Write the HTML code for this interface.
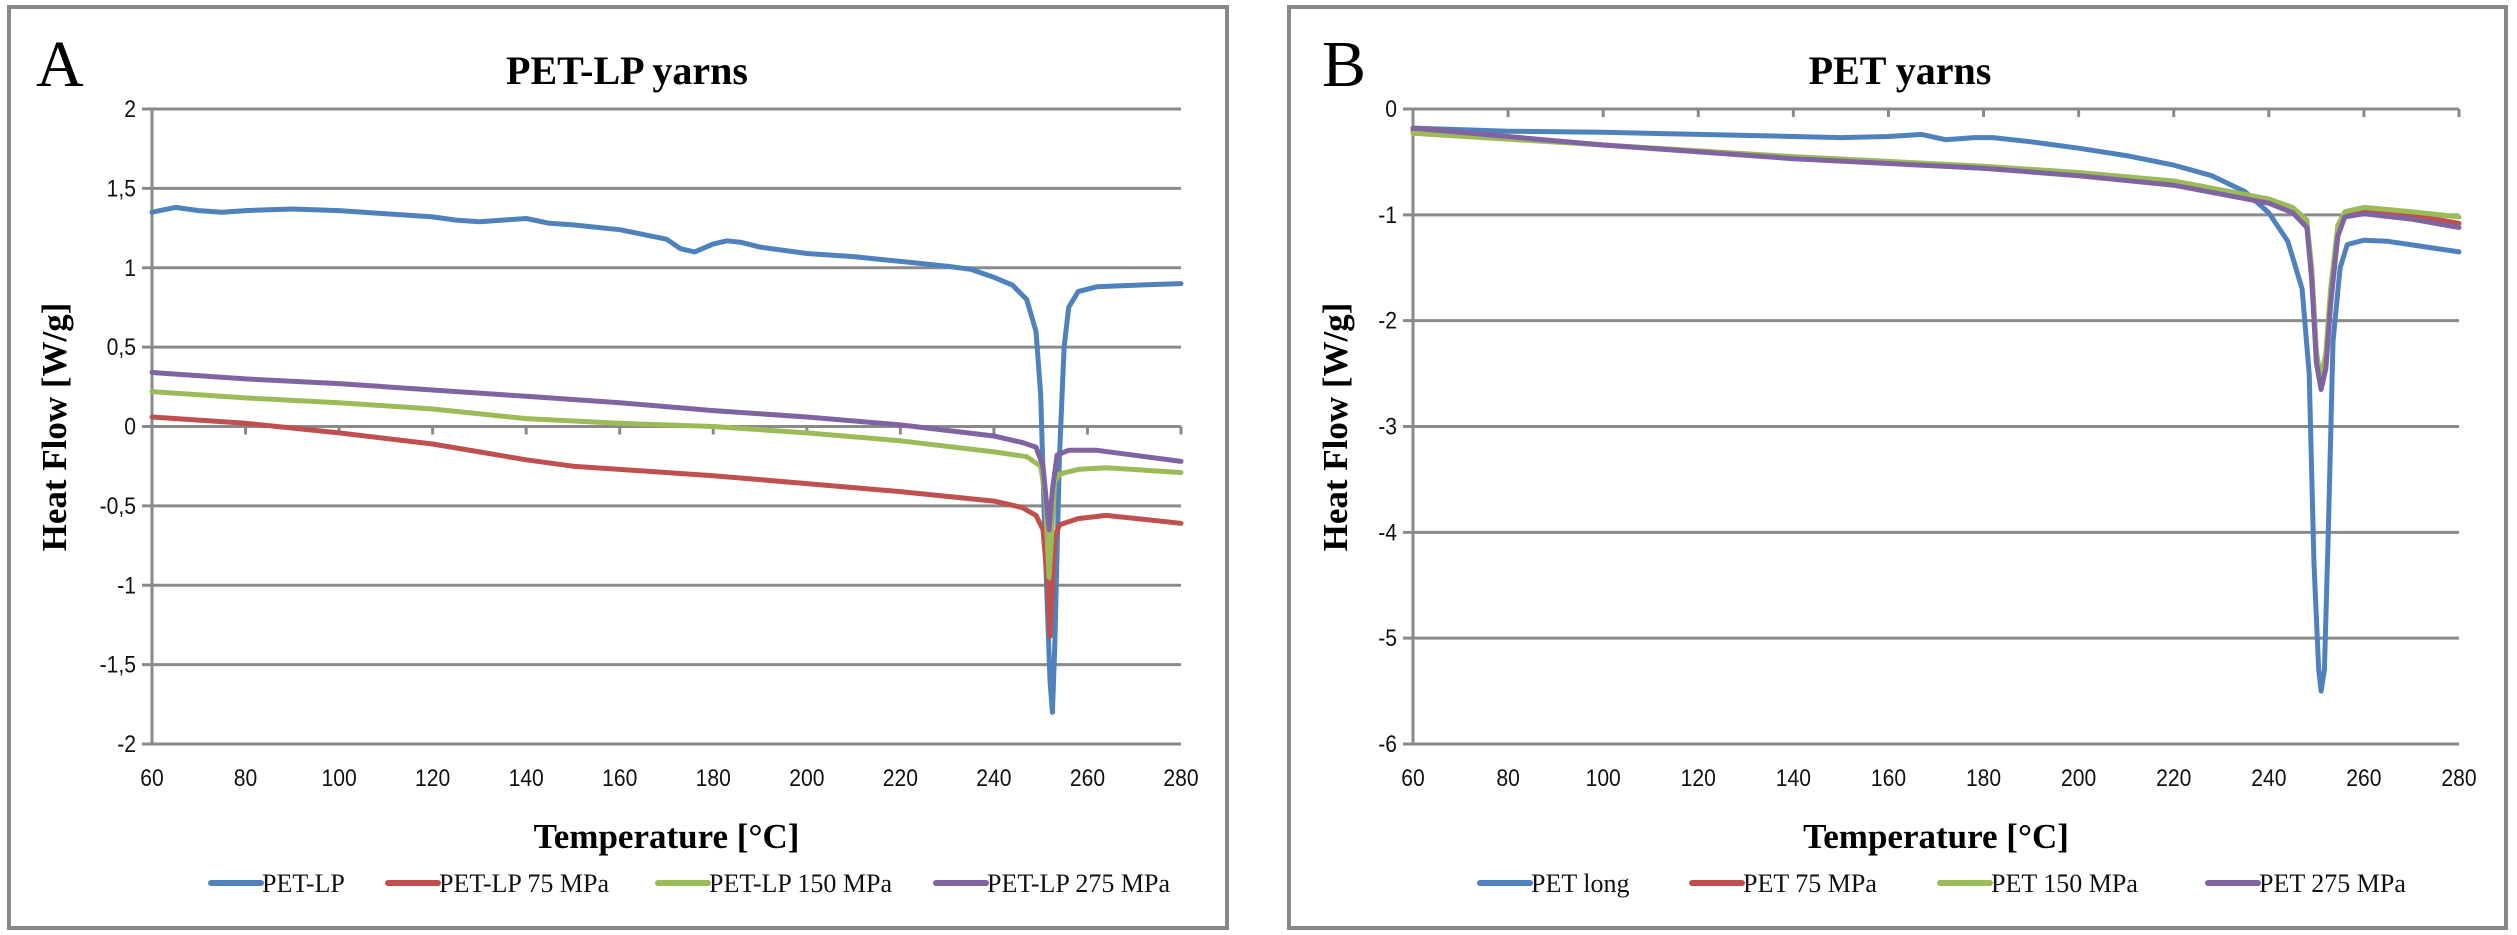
<!DOCTYPE html>
<html><head><meta charset="utf-8"><style>
html,body{margin:0;padding:0;background:#fff;}
svg{display:block;}
.tick{font-family:"Liberation Sans",sans-serif;font-size:24px;fill:#111;}
.ttl{font-family:"Liberation Serif",serif;font-weight:bold;fill:#000;}
.leg{font-family:"Liberation Serif",serif;font-size:26px;fill:#111;}
</style></head><body>
<svg id="chart" width="2517" height="935" viewBox="0 0 2517 935" xmlns="http://www.w3.org/2000/svg">
<rect x="9" y="7" width="1218" height="921" fill="#fff" stroke="#888" stroke-width="4"/>
<rect x="1289" y="7" width="1217" height="921" fill="#fff" stroke="#888" stroke-width="4"/>
<text x="36" y="86" font-family="Liberation Serif, serif" font-size="66">A</text>
<text x="1322" y="86" font-family="Liberation Serif, serif" font-size="66">B</text>
<text class="ttl" x="627" y="84" font-size="40" text-anchor="middle">PET-LP yarns</text>
<text class="ttl" x="1900" y="84" font-size="40" text-anchor="middle">PET yarns</text>
<g id="ga"></g><g id="gb"></g>
</svg>
<script>
const xTicks=[60,80,100,120,140,160,180,200,220,240,260,280];
const aYTicks=[2,1.5,1,0.5,0,-0.5,-1,-1.5,-2];
const bYTicks=[0,-1,-2,-3,-4,-5,-6];
const aNames=["PET-LP","PET-LP 75 MPa","PET-LP 150 MPa","PET-LP 275 MPa"];
const bNames=["PET long","PET 75 MPa","PET 150 MPa","PET 275 MPa"];
const colors=["#4F81BD","#C0504D","#9BBB59","#8064A2"];
const aX0=[60,65,70,75,80,90,100,110,120,125,130,135,140,145,150,160,165,170,173,176,180,183,186,190,200,210,220,230,235,240,244,247,249,250,251,252,252.5,253,254,255,256,258,262,270,280];
const aY0=[1.35,1.38,1.36,1.35,1.36,1.37,1.36,1.34,1.32,1.30,1.29,1.30,1.31,1.28,1.27,1.24,1.21,1.18,1.12,1.10,1.15,1.17,1.16,1.13,1.09,1.07,1.04,1.01,0.99,0.94,0.89,0.80,0.60,0.2,-0.8,-1.6,-1.8,-1.4,-0.2,0.5,0.75,0.85,0.88,0.89,0.9];
const aX1=[60,80,100,120,130,140,150,160,180,200,220,240,246,249,250.5,251.5,252,252.5,253,254,258,264,280];
const aY1=[0.06,0.02,-0.04,-0.11,-0.16,-0.21,-0.25,-0.27,-0.31,-0.36,-0.41,-0.47,-0.51,-0.56,-0.65,-1.0,-1.32,-1.0,-0.7,-0.62,-0.58,-0.56,-0.61];
const aX2=[60,80,100,120,140,160,180,200,220,240,247,250,251,251.8,252.5,253,254,258,264,280];
const aY2=[0.22,0.18,0.15,0.11,0.05,0.02,0.00,-0.04,-0.09,-0.16,-0.19,-0.25,-0.45,-0.95,-0.6,-0.35,-0.3,-0.27,-0.26,-0.29];
const aX3=[60,80,100,120,140,160,180,200,220,240,246,249,250.5,251.8,252.5,253.5,256,262,280];
const aY3=[0.34,0.30,0.27,0.23,0.19,0.15,0.10,0.06,0.01,-0.06,-0.1,-0.13,-0.25,-0.65,-0.4,-0.18,-0.15,-0.15,-0.22];
const bX0=[60,80,100,120,140,150,160,167,172,178,182,190,200,210,220,228,235,240,244,247,248.5,249.5,250.5,251,251.7,252.5,253.5,255,256.5,260,265,280];
const bY0=[-0.18,-0.21,-0.22,-0.24,-0.26,-0.27,-0.26,-0.24,-0.29,-0.27,-0.27,-0.31,-0.37,-0.44,-0.53,-0.63,-0.78,-0.98,-1.25,-1.7,-2.5,-4.3,-5.3,-5.5,-5.3,-4.0,-2.2,-1.5,-1.28,-1.24,-1.25,-1.35];
const bX1=[60,80,100,120,140,160,180,200,220,230,240,245,248,249,250,251,252,253,254.5,256,260,270,280];
const bY1=[-0.2,-0.27,-0.34,-0.4,-0.46,-0.51,-0.56,-0.62,-0.71,-0.78,-0.88,-0.97,-1.1,-1.5,-2.3,-2.6,-2.4,-1.8,-1.2,-1.0,-0.96,-1.0,-1.08];
const bX2=[60,100,140,180,200,220,240,245,248,249,250,251,252,253,254.5,256,260,270,280];
const bY2=[-0.23,-0.34,-0.45,-0.54,-0.6,-0.68,-0.85,-0.93,-1.05,-1.5,-2.3,-2.55,-2.3,-1.7,-1.1,-0.97,-0.93,-0.97,-1.02];
const bX3=[60,100,140,180,200,220,240,245,248,249,250,251,252,253,254.5,256,260,270,280];
const bY3=[-0.18,-0.34,-0.47,-0.56,-0.63,-0.72,-0.89,-0.98,-1.12,-1.6,-2.4,-2.65,-2.45,-1.85,-1.2,-1.02,-0.99,-1.04,-1.12];

const NS="http://www.w3.org/2000/svg";
function mk(parent,tag,attrs,text){const e=document.createElementNS(NS,tag);for(const k in attrs)e.setAttribute(k,attrs[k]);if(text!==undefined)e.textContent=text;parent.appendChild(e);return e;}

function panel(g,cfg){
  const xs=v=>cfg.L+(v-60)/(280-60)*(cfg.R-cfg.L);
  const ymax=cfg.yt[0],ymin=cfg.yt[cfg.yt.length-1];
  const ys=v=>cfg.T+(ymax-v)/(ymax-ymin)*(cfg.B-cfg.T);
  cfg.yt.forEach(t=>{
    const l=mk(g,'line',{x1:cfg.L-10,x2:cfg.R,y1:ys(t),y2:ys(t),stroke:'#8a8a8a','stroke-width':3});
    
    
    const tx=mk(g,'text',{x:0,y:0,'text-anchor':'end',class:'tick',transform:`translate(${cfg.L-16},${ys(t)+8}) scale(0.88,1)`},String(t).replace('.',','));
    
    
  });
  const ax=mk(g,'line',{x1:cfg.L,x2:cfg.L,y1:cfg.T,y2:cfg.B,stroke:'#8a8a8a','stroke-width':3});
  
  
  const y0=ys(0);
  xTicks.forEach(t=>{
    const tk=mk(g,'line',{x1:xs(t),x2:xs(t),y1:y0,y2:y0+8,stroke:'#8a8a8a','stroke-width':3});
    
    
    const tx=mk(g,'text',{x:0,y:0,'text-anchor':'middle',class:'tick',transform:`translate(${xs(t)},${cfg.B+42}) scale(0.88,1)`},String(t));
    
    
  });
  cfg.series.forEach((s,i)=>{
    const d=s[0].map((x,j)=>(j?'L':'M')+xs(x).toFixed(1)+','+ys(s[1][j]).toFixed(1)).join(' ');
    const p=mk(g,'path',{d:d,fill:'none',stroke:colors[i],'stroke-width':5,'stroke-linejoin':'round','stroke-linecap':'round'});
    
    
  });
  const yt=mk(g,'text',{x:0,y:0,class:'ttl','font-size':35,'text-anchor':'middle',transform:`translate(${cfg.ytx},427) rotate(-90)`},'Heat Flow [W/g]');
  
  
  const xt=mk(g,'text',{x:(cfg.L+cfg.R)/2,y:848,class:'ttl','font-size':35,'text-anchor':'middle'},'Temperature [°C]');
  
  
  cfg.names.forEach((n,i)=>{
    const lx=cfg.leg[i];
    const ll=mk(g,'line',{x1:lx,x2:lx+50,y1:883,y2:883,stroke:colors[i],'stroke-width':6,'stroke-linecap':'round'});
    
    
    const lt=mk(g,'text',{x:lx+51,y:892,class:'leg'},n);
    
    
  });
}
panel(document.getElementById('ga'),{L:152,R:1181,T:109,B:744,yt:aYTicks,names:aNames,ytx:66,leg:[211,388,658,936],
  series:[[aX0,aY0],[aX1,aY1],[aX2,aY2],[aX3,aY3]]});
panel(document.getElementById('gb'),{L:1413,R:2459,T:109,B:744,yt:bYTicks,names:bNames,ytx:1347,leg:[1480,1692,1940,2208],
  series:[[bX0,bY0],[bX1,bY1],[bX2,bY2],[bX3,bY3]]});
</script>
</body></html>
